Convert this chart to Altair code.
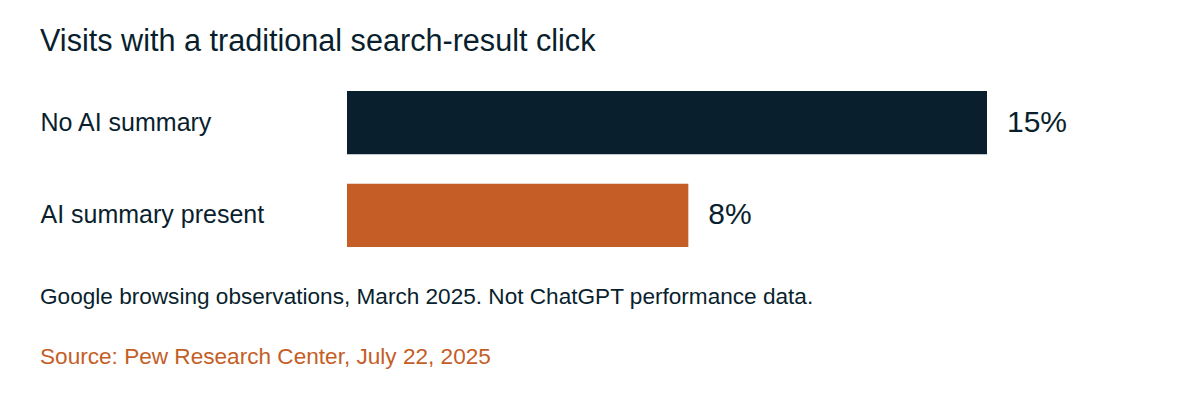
"""Horizontal bar chart: visits with a traditional search-result click."""
import pandas as pd
import altair as alt

# data
categories = ["No AI summary", "AI summary present"]
shares = [15, 8]
labels = ["15%", "8%"]
colors = ["#0a1f2e", "#c45e26"]

note_text = ["Google browsing observations, March 2025. Not ChatGPT performance data."]
source_text = ["Source: Pew Research Center, July 22, 2025"]

df = pd.DataFrame({"category": categories, "share": shares, "label": labels})

FONT = "Liberation Sans"
DARK = "#0a1f2e"
ORANGE = "#c45e26"

y_enc = alt.Y(
    "category:N",
    sort=categories,
    scale=alt.Scale(paddingInner=0.32, paddingOuter=0),
    axis=alt.Axis(
        title=None, domain=False, ticks=False, labelAlign="left",
        labelPadding=307, labelFontSize=25, labelFont=FONT,
        labelColor=DARK, labelLimit=400,
    ),
)
x_enc = alt.X("share:Q", scale=alt.Scale(domain=[0, 15], nice=False), axis=None)

bars = alt.Chart(df).mark_bar().encode(
    x=x_enc,
    y=y_enc,
    color=alt.Color("category:N", scale=alt.Scale(domain=categories, range=colors), legend=None),
)

values = alt.Chart(df).mark_text(
    align="left", baseline="middle", dx=20, fontSize=30, font=FONT, color=DARK
).encode(x=x_enc, y=y_enc, text="label:N")

note = alt.Chart(pd.DataFrame({"t": note_text})).mark_text(
    align="left", baseline="alphabetic", fontSize=22.6, font=FONT, color=DARK
).encode(x=alt.value(-307), y=alt.value(213), text="t:N")

source = alt.Chart(pd.DataFrame({"t": source_text})).mark_text(
    align="left", baseline="alphabetic", fontSize=22.6, font=FONT, color=ORANGE
).encode(x=alt.value(-307), y=alt.value(273), text="t:N")

chart = (
    alt.layer(bars, values, note, source)
    .properties(
        width=640,
        height=156,
        background="white",
        autosize=alt.AutoSizeParams(type="none"),
        padding={"left": 339, "top": 83, "right": 205, "bottom": 159},
        title=alt.Title(
            "Visits with a traditional search-result click",
            anchor="start", font=FONT, fontSize=30.6, fontWeight="normal",
            color=DARK, baseline="alphabetic", offset=9,
        ),
    )
    .configure_view(strokeWidth=0)
)

chart.save("out.html", embed_options={"renderer": "svg", "actions": False})
